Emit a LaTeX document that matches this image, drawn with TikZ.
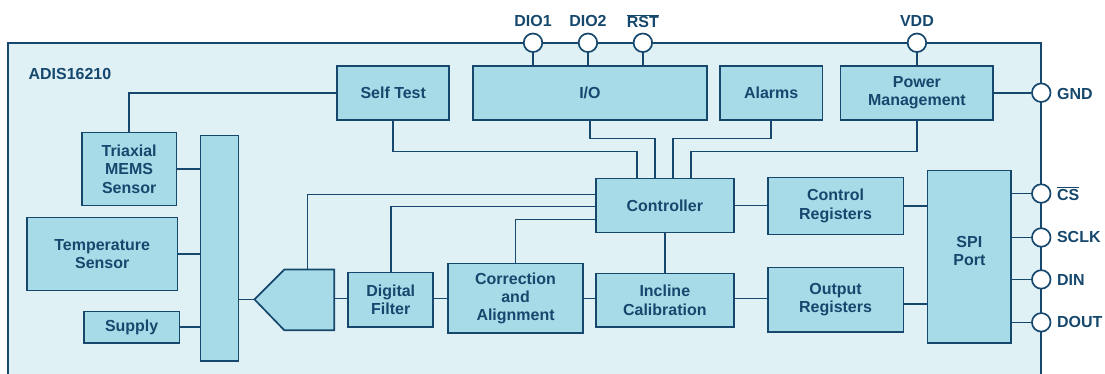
\documentclass[tikz,border=0pt]{standalone}
\usepackage{fontspec}
\setmainfont{Liberation Sans}
\usetikzlibrary{calc}
\definecolor{ln}{RGB}{22,72,110}
\definecolor{bx}{RGB}{167,219,231}
\definecolor{bg}{RGB}{224,241,246}
\begin{document}
\begin{tikzpicture}[x=1pt,y=-1pt,
  every path/.style={line width=1.7pt, draw=ln},
  blk/.style={draw=ln, fill=bx, line width=1.7pt, inner sep=0pt, align=center, text=ln,
    font=\fontsize{16}{18.3}\selectfont\bfseries},
  pin/.style={circle, draw=ln, fill=white, line width=1.7pt, minimum size=18.6pt, inner sep=0pt},
  lbl/.style={text=ln, inner sep=0pt, align=center, font=\fontsize{16}{18.3}\selectfont\bfseries}]
\useasboundingbox (0,0) rectangle (1105,372);
\fill[white] (0,0) rectangle (1105,372);
% frame
\fill[bg] (7,42) rectangle (1042,390);
\draw (7,390) -- (7,42) -- (1042,42) -- (1042,390);
\node[lbl, anchor=west] (title) at (27,73) {ADIS16210};
% top row
\node[blk, minimum width=112pt, minimum height=54pt] (st) at (393,92) {Self Test};
\node[blk, minimum width=234pt, minimum height=54pt] (io) at (590,92) {I/O};
\node[blk, minimum width=103pt, minimum height=54pt] (al) at (771.5,92) {Alarms};
\node[blk, minimum width=153pt, minimum height=54pt] (pm) at (917.5,92) {Power\\Management};
% left
\node[blk, minimum width=95pt, minimum height=73pt] (mems) at (128.5,168.5) {Triaxial\\MEMS\\Sensor};
\node[blk, minimum width=38pt, minimum height=226pt] (bar) at (219,248) {};
\node[blk, minimum width=151pt, minimum height=73pt] (temp) at (101.5,253.5) {Temperature\\Sensor};
\node[blk, minimum width=96pt, minimum height=32pt] (sup) at (131,327) {Supply};
% adc
\draw[fill=bx] (254,299) -- (284,269) -- (334,269) -- (334,330) -- (284,330) -- cycle;
\coordinate (adctip) at (254,299);
\coordinate (adctop) at (307,269);
\coordinate (adcright) at (334,298);
% middle
\node[blk, minimum width=85pt, minimum height=55pt] (df) at (390.5,299.5) {Digital\\Filter};
\node[blk, minimum width=135pt, minimum height=70pt] (ca) at (515.5,298) {Correction\\and\\Alignment};
\node[blk, minimum width=138pt, minimum height=54pt] (ctrl) at (665,205) {Controller};
\node[blk, minimum width=138pt, minimum height=54pt] (ic) at (665,300) {Incline\\Calibration};
\node[blk, minimum width=136pt, minimum height=57pt] (cr) at (836,205.5) {Control\\Registers};
\node[blk, minimum width=136pt, minimum height=65pt] (or) at (836,299.5) {Output\\Registers};
\node[blk, minimum width=84pt, minimum height=173pt] (spi) at (970,256.5) {};
\node[lbl] (spit) at ($(spi.center)+(0,-6)$) {SPI\\Port};
% pins
\node[pin] (dio1) at (533,42) {};
\node[pin] (dio2) at (588,42) {};
\node[pin] (rst) at (643,42) {};
\node[pin] (vdd) at (917.5,42) {};
\node[pin] (gnd) at (1042,92) {};
\node[pin] (cs) at (1042,193) {};
\node[pin] (sclk) at (1042,237) {};
\node[pin] (din) at (1042,279) {};
\node[pin] (dout) at (1042,322) {};
\node[lbl] (ldio1) at (533,20) {DIO1};
\node[lbl] (ldio2) at (588,20) {DIO2};
\node[lbl] (lrst) at (643,20) {$\overline{\hbox{RST}}$};
\node[lbl] (lvdd) at (917.5,20) {VDD};
\node[lbl, anchor=west] (lgnd) at (1057,93) {GND};
\node[lbl, anchor=west] (lcs) at (1057,193) {$\overline{\hbox{CS}}$};
\node[lbl, anchor=west] (lsclk) at (1057,237) {SCLK};
\node[lbl, anchor=west] (ldin) at (1057,280) {DIN};
\node[lbl, anchor=west] (ldout) at (1057,322) {DOUT};
% connectors
\draw (dio1) -- (dio1 |- io.north);
\draw (dio2) -- (dio2 |- io.north);
\draw (rst) -- (rst |- io.north);
\draw (vdd) -- (pm.north);
\draw (pm.east |- gnd) -- (gnd);
\draw (st.west) -| (mems.north);
\draw (st.south) -- ++(0,31) -| ($(ctrl.north west)+(42,0)$);
\draw (io.south) -- ++(0,18) -| ($(ctrl.north west)+(60,0)$);
\draw (al.south) -- ++(0,18) -| ($(ctrl.north west)+(78,0)$);
\draw (pm.south) -- ++(0,31) -| ($(ctrl.north west)+(96,0)$);
\draw (mems.east) -- (mems.east -| bar.west);
\draw (temp.east) -- (temp.east -| bar.west);
\draw (sup.east) -- (sup.east -| bar.west);
\draw (bar.east |- adctip) -- (adctip);
\draw (adctop) |- ($(ctrl.west)+(0,-11)$);
\draw (df.north) |- ($(ctrl.west)+(0,1)$);
\draw (ca.north) |- ($(ctrl.west)+(0,14)$);
\draw (adcright) -- (adcright -| df.west);
\draw (adcright -| df.east) -- (adcright -| ca.west);
\draw (ca.east) -- (ca.east -| ic.west);
\draw (ctrl.south) -- (ic.north);
\draw (ic.east |- ca.east) -- (or.west |- ca.east);
\draw (ctrl.east) -- (ctrl.east -| cr.west);
\draw (cr.east) -- (cr.east -| spi.west);
\draw ($(or.east)+(0,4)$) -- ($(or.east -| spi.west)+(0,4)$);
\draw (spi.east |- cs) -- (cs);
\draw (spi.east |- sclk) -- (sclk);
\draw (spi.east |- din) -- (din);
\draw (spi.east |- dout) -- (dout);
\end{tikzpicture}
\end{document}
